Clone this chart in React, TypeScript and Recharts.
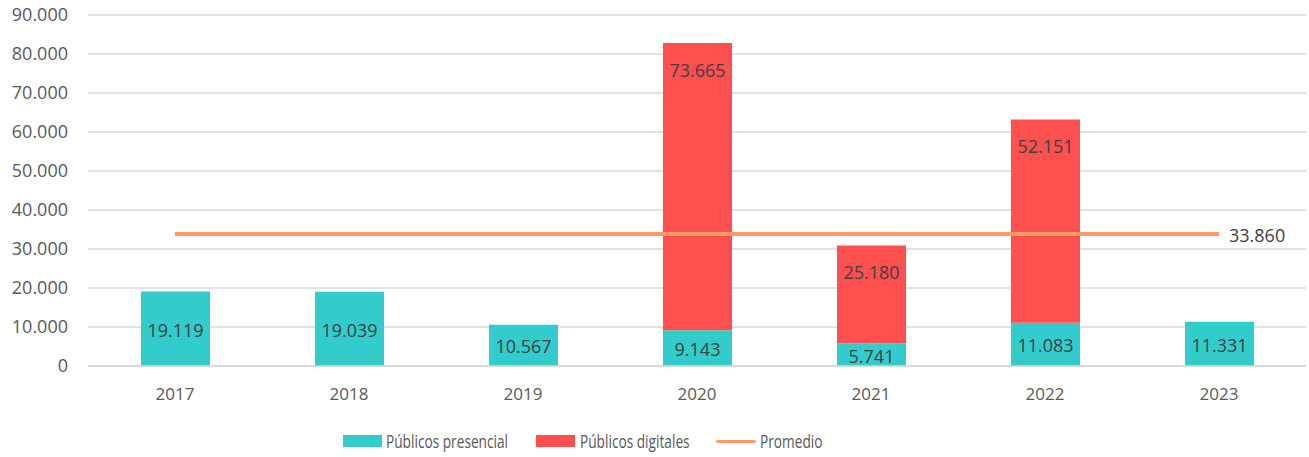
import React from 'react';
import { ComposedChart, Bar, Line, XAxis, YAxis, CartesianGrid, LabelList } from 'recharts';

const years = ['2017', '2018', '2019', '2020', '2021', '2022', '2023'];
const presencial = [19119, 19039, 10567, 9143, 5741, 11083, 11331];
const digitales: (number | null)[] = [null, null, null, 73665, 25180, 52151, null];
const promedio = 33860;
const yTicks = [0, 10000, 20000, 30000, 40000, 50000, 60000, 70000, 80000, 90000];

const data = years.map((year, i) => ({
  year,
  presencial: presencial[i],
  digitales: digitales[i],
  promedio,
}));

const TEAL = '#33CCCC';
const RED = '#FF5050';
const ORANGE = '#FF9966';
const TEXT = '#595959';
const LABEL = '#404040';
const FONT = '"Open Sans", "Noto Sans", sans-serif';

const fmt = (v: number) => v.toLocaleString('de-DE');

const BarLabel = (props: any) => {
  const { x, y, width, height, value, position } = props;
  if (value == null || value === '') return null;
  const cx = x + width / 2;
  const cy = position === 'top' ? y + 27 : y + height / 2 + 1;
  return (
    <text x={cx} y={cy} textAnchor="middle" dominantBaseline="central" fill={LABEL} fontSize={18} fontFamily={FONT}>
      {fmt(value)}
    </text>
  );
};

const AvgLabel = (props: any) => {
  const { x, y, index, value } = props;
  if (index !== years.length - 1) return null;
  return (
    <text x={x + 10} y={y + 1} dominantBaseline="central" fill={LABEL} fontSize={18} fontFamily={FONT}>
      {fmt(value)}
    </text>
  );
};

// legend text squeezed to approximate the narrower original face
const LegendText = ({ left, children }: { left: number; children: React.ReactNode }) => (
  <span
    style={{
      position: 'absolute',
      left,
      top: 0,
      whiteSpace: 'nowrap',
      display: 'inline-block',
      transform: 'scaleX(0.76)',
      transformOrigin: 'left center',
    }}
  >
    {children}
  </span>
);

const LegendBox = () => (
  <div style={{ position: 'absolute', top: 430, left: 0, width: 1309, height: 24, fontFamily: FONT, fontSize: 18, color: TEXT, lineHeight: '22px' }}>
    <div style={{ position: 'absolute', left: 343, top: 5, width: 39, height: 12, background: TEAL }} />
    <LegendText left={386}>Públicos presencial</LegendText>
    <div style={{ position: 'absolute', left: 536, top: 5, width: 39, height: 12, background: RED }} />
    <LegendText left={580}>Públicos digitales</LegendText>
    <div style={{ position: 'absolute', left: 716, top: 10, width: 40, height: 3, borderRadius: 2, background: ORANGE }} />
    <LegendText left={760}>Promedio</LegendText>
  </div>
);

export default function App() {
  return (
    <div style={{ position: 'relative', width: 1309, height: 457, background: '#fff' }}>
      <style>{`body{margin:0}`}</style>
      <ComposedChart
        width={1309}
        height={457}
        data={data}
        margin={{ top: 15, right: 3, left: 0, bottom: 61 }}
        barSize={69}
      >
        <CartesianGrid vertical={false} stroke="#D9D9D9" strokeWidth={1.5} />
        <XAxis
          dataKey="year"
          axisLine={{ stroke: '#D9D9D9', strokeWidth: 1.5 }}
          tickLine={false}
          tickMargin={16}
          tick={{ fill: TEXT, fontSize: 17, fontFamily: FONT }}
        />
        <YAxis
          width={88}
          domain={[0, 90000]}
          ticks={yTicks}
          interval={0}
          axisLine={false}
          tickLine={false}
          tickMargin={14}
          tickFormatter={fmt}
          tick={{ fill: TEXT, fontSize: 18, fontFamily: FONT }}
        />
        <Bar dataKey="presencial" stackId="a" fill={TEAL} isAnimationActive={false}>
          <LabelList dataKey="presencial" content={(p: any) => <BarLabel {...p} position="center" />} />
        </Bar>
        <Bar dataKey="digitales" stackId="a" fill={RED} isAnimationActive={false}>
          <LabelList dataKey="digitales" content={(p: any) => <BarLabel {...p} position="top" />} />
        </Bar>
        <Line
          dataKey="promedio"
          stroke={ORANGE}
          strokeWidth={4}
          dot={false}
          activeDot={false}
          isAnimationActive={false}
        >
          <LabelList dataKey="promedio" content={(p: any) => <AvgLabel {...p} />} />
        </Line>
      </ComposedChart>
      <LegendBox />
    </div>
  );
}
